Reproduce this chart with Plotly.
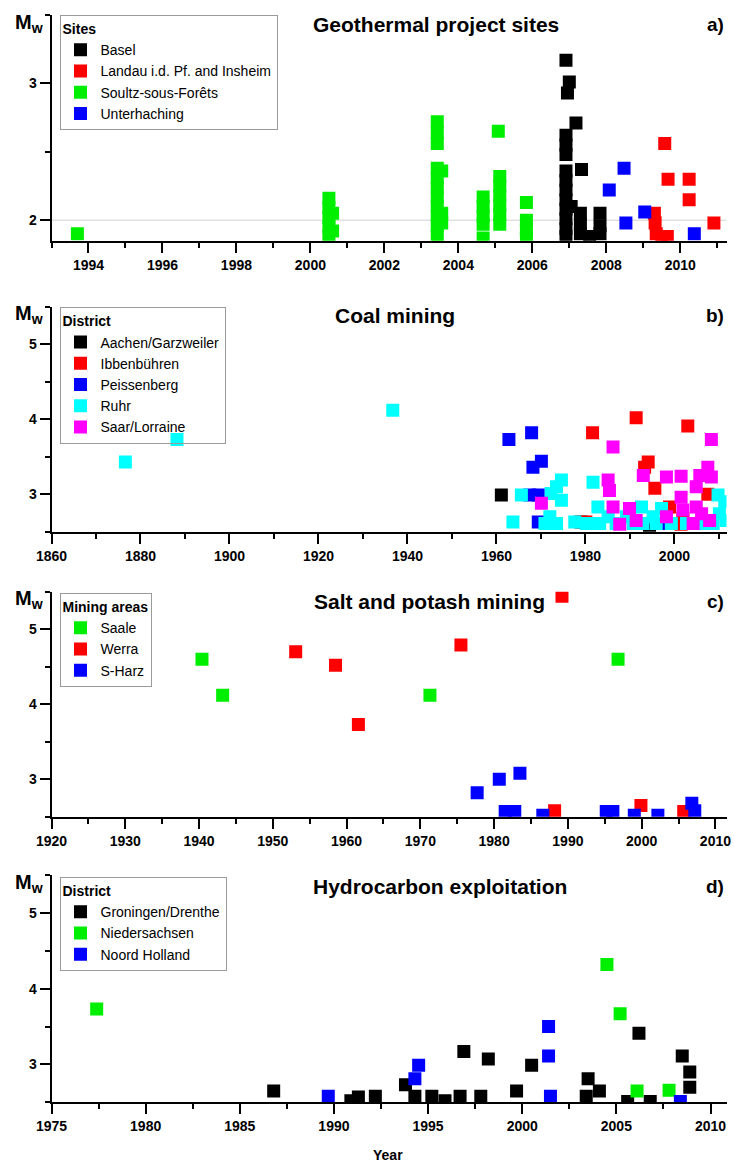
import plotly.graph_objects as go

W, H = 734, 1164

# ---------------- Panel a: Geothermal project sites ----------------
basel_x = [2006.91, 2007.0, 2006.95, 2007.18, 2006.91, 2006.91, 2006.91,
           2006.91, 2006.91, 2006.91, 2006.91, 2006.91, 2006.91, 2006.91, 2006.91,
           2007.33, 2007.05, 2007.3, 2007.3, 2007.3, 2007.55, 2007.83, 2007.83, 2007.83]
basel_y = [3.17, 3.01, 2.93, 2.71, 2.62, 2.55, 2.48,
           2.36, 2.29, 2.22, 2.15, 2.08, 2.01, 1.94, 1.88,
           2.37, 2.10, 2.05, 1.97, 1.90, 1.88, 2.05, 1.96, 1.90]
landau_x = [2009.58, 2009.67, 2010.24, 2010.24, 2010.91, 2009.3, 2009.32, 2009.35, 2009.5, 2009.65]
landau_y = [2.56, 2.30, 2.30, 2.15, 1.98, 2.05, 1.98, 1.90, 1.88, 1.88]
soultz_x = [1993.7,
            2000.5, 2000.5, 2000.5, 2000.5, 2000.5, 2000.6, 2000.6,
            2003.43, 2003.43, 2003.43,
            2003.43, 2003.43, 2003.43, 2003.43, 2003.43, 2003.43, 2003.43, 2003.43,
            2003.55, 2003.55, 2003.55,
            2004.67, 2004.67, 2004.67, 2004.67, 2004.67,
            2005.08,
            2005.12, 2005.12, 2005.12, 2005.12, 2005.12, 2005.12,
            2005.84, 2005.84, 2005.84, 2005.84]
soultz_y = [1.90,
            2.16, 2.09, 2.02, 1.95, 1.88, 2.05, 1.92,
            2.72, 2.64, 2.56,
            2.38, 2.31, 2.24, 2.17, 2.10, 2.03, 1.96, 1.89,
            2.36, 2.05, 1.98,
            2.17, 2.10, 2.03, 1.97, 1.87,
            2.65,
            2.32, 2.25, 2.18, 2.11, 2.04, 1.97,
            2.13, 2.00, 1.93, 1.87]
unter_x = [2008.08, 2008.48, 2008.53, 2009.04, 2010.38]
unter_y = [2.22, 2.38, 1.98, 2.06, 1.90]

# ---------------- Panel b: Coal mining ----------------
aachen_x = [1961.1, 1979.0, 1994.4]
aachen_y = [2.99, 2.63, 2.55]
ibben_x = [1991.4, 2003.0, 1981.6, 1994.1, 1993.3, 1995.6, 1980.1, 1998.9, 2001.9, 2007.5, 2001.5]
ibben_y = [4.02, 3.91, 3.82, 3.43, 3.36, 3.08, 2.63, 2.83, 2.68, 3.00, 2.60]
peiss_x = [1962.8, 1967.9, 1970.1, 1968.2, 1967.5, 1969.4, 1969.4, 1997.8]
peiss_y = [3.73, 3.82, 3.44, 3.36, 2.99, 2.99, 2.63, 2.61]
ruhr_x = [1876.6, 1888.2, 1936.7,
          1963.7, 1965.6, 1974.6, 1973.5, 1972.3, 1974.6, 1972.0, 1973.5, 1970.9, 1977.6,
          1981.7, 1982.8, 1983.2, 1985.1, 1986.9, 1989.2, 1992.6, 1992.9, 1995.2, 1997.1,
          1999.3, 1995.9, 2009.8, 2011.3, 2010.1, 2008.7, 2011.6, 2006.4, 1981.7, 1990.7,
          1980.2, 2002.7]
ruhr_y = [3.43, 3.73, 4.12,
          2.63, 2.99, 3.19, 3.10, 3.01, 2.92, 2.70, 2.61, 2.61, 2.63,
          3.16, 2.83, 2.61, 2.70, 2.61, 2.70, 2.83, 2.61, 2.70, 2.81,
          2.61, 2.61, 2.99, 2.90, 2.74, 2.61, 2.65, 2.61, 2.61, 2.61,
          2.61, 2.61]
saar_x = [2008.3, 1986.2, 1998.2, 2001.5, 1993.0, 2005.7, 2007.5, 2008.3, 1985.1, 1985.4,
          1970.1, 1986.2, 1989.9, 2001.5, 2004.9, 2004.9, 2001.9, 2006.1, 1987.7, 1991.4,
          2004.2, 2007.9, 1998.2]
saar_y = [3.73, 3.63, 3.23, 3.24, 3.25, 3.25, 3.36, 3.23, 3.19, 3.05,
          2.88, 2.83, 2.81, 2.96, 3.10, 2.83, 2.79, 2.74, 2.60, 2.65,
          2.61, 2.65, 2.70]

# ---------------- Panel c: Salt and potash mining ----------------
saale_x = [1940.4, 1943.2, 1971.3, 1996.8]
saale_y = [4.60, 4.12, 4.12, 4.60]
werra_x = [1953.1, 1958.5, 1961.6, 1975.5, 1989.2, 1988.2, 1999.9, 2005.7]
werra_y = [4.70, 4.52, 3.73, 4.79, 5.44, 2.58, 2.65, 2.57]
sharz_x = [1977.7, 1980.7, 1983.5, 1981.5, 1982.8, 1986.6, 1995.2, 1996.1, 1999.0, 2002.2, 2006.8, 2007.2]
sharz_y = [2.82, 3.00, 3.08, 2.57, 2.57, 2.52, 2.57, 2.57, 2.52, 2.52, 2.68, 2.58]

# ---------------- Panel d: Hydrocarbon exploitation ----------------
gron_x = [1986.8, 1991.3, 1990.9, 1992.2, 1993.8, 1994.3, 1995.2, 1995.9, 1996.7, 1996.9,
          1998.2, 1997.8, 1999.7, 2000.5, 2003.5, 2003.4, 2004.1, 2005.6, 2006.2, 2006.8,
          2008.5, 2008.9, 2008.9]
gron_y = [2.65, 2.57, 2.52, 2.58, 2.73, 2.58, 2.58, 2.52, 2.58, 3.17,
          3.07, 2.58, 2.65, 2.99, 2.81, 2.58, 2.65, 2.51, 3.41, 2.51,
          3.11, 2.90, 2.70]
nieder_x = [1977.4, 2004.5, 2005.2, 2006.1, 2007.8]
nieder_y = [3.73, 4.32, 3.67, 2.65, 2.66]
noord_x = [1989.7, 1994.3, 1994.5, 2001.4, 2001.4, 2001.5, 2008.4]
noord_y = [2.58, 2.81, 2.99, 3.50, 3.11, 2.58, 2.51]

panels = [
    dict(title="Geothermal project sites", letter="a)", legend_title="Sites",
         xr=[1993, 2011.25], yr=[1.85, 3.5], dtx=2, t0x=1994, mdx=1,
         top=15, bottom=240.7, title_cx=436, title_y=24,
         leg_y=15,
         series=[("Basel", basel_x, basel_y, "#000000"),
                 ("Landau i.d. Pf. and Insheim", landau_x, landau_y, "#ff0000"),
                 ("Soultz-sous-Forêts", soultz_x, soultz_y, "#00ee00"),
                 ("Unterhaching", unter_x, unter_y, "#0000ff")]),
    dict(title="Coal mining", letter="b)", legend_title="District",
         xr=[1860, 2011.7], yr=[2.5, 5.5], dtx=20, t0x=1860, mdx=10,
         top=306.7, bottom=531.7, title_cx=395, title_y=316,
         leg_y=307.3,
         series=[("Aachen/Garzweiler", aachen_x, aachen_y, "#000000"),
                 ("Ibbenbühren", ibben_x, ibben_y, "#ff0000"),
                 ("Peissenberg", peiss_x, peiss_y, "#0000ff"),
                 ("Ruhr", ruhr_x, ruhr_y, "#00ffff"),
                 ("Saar/Lorraine", saar_x, saar_y, "#ff00ff")]),
    dict(title="Salt and potash mining", letter="c)", legend_title="Mining areas",
         xr=[1920, 2011.5], yr=[2.5, 5.5], dtx=10, t0x=1920, mdx=5,
         top=591.7, bottom=816.7, title_cx=429, title_y=601,
         leg_y=593,
         series=[("Saale", saale_x, saale_y, "#00ee00"),
                 ("Werra", werra_x, werra_y, "#ff0000"),
                 ("S-Harz", sharz_x, sharz_y, "#0000ff")]),
    dict(title="Hydrocarbon exploitation", letter="d)", legend_title="District",
         xr=[1975, 2010.85], yr=[2.5, 5.5], dtx=5, t0x=1975, mdx=2.5,
         top=875, bottom=1102.3, title_cx=440, title_y=886,
         leg_y=877,
         series=[("Groningen/Drenthe", gron_x, gron_y, "#000000"),
                 ("Niedersachsen", nieder_x, nieder_y, "#00ee00"),
                 ("Noord Holland", noord_x, noord_y, "#0000ff")]),
]

FONT = "Liberation Sans"
fig = go.Figure()
left_px, right_px = 51.5, 726.5
annotations = []
shapes = []
layout = {}

for i, p in enumerate(panels, start=1):
    xa = "x" if i == 1 else f"x{i}"
    ya = "y" if i == 1 else f"y{i}"
    lg = "legend" if i == 1 else f"legend{i}"
    for name, xs, ys, col in p["series"]:
        fig.add_trace(go.Scatter(
            x=xs, y=ys, mode="markers", name=name, xaxis=xa, yaxis=ya, legend=lg,
            marker=dict(symbol="square", size=13, color=col, line=dict(width=0)),
        ))
    common = dict(showline=True, linecolor="black", linewidth=2, ticks="outside",
                  ticklen=10, tickwidth=2, tickcolor="black", showgrid=False, zeroline=False,
                  automargin=False,
                  tickfont=dict(family=FONT, size=14, color="black", weight="bold"))
    layout["xaxis" if i == 1 else f"xaxis{i}"] = dict(
        common, domain=[left_px / W, right_px / W], anchor=ya, range=p["xr"],
        dtick=p["dtx"], tick0=p["t0x"],
        minor=dict(ticks="outside", ticklen=5, tickwidth=2, tickcolor="black",
                   dtick=p["mdx"], tick0=p["t0x"], showgrid=False))
    layout["yaxis" if i == 1 else f"yaxis{i}"] = dict(
        common, domain=[1 - p["bottom"] / H, 1 - p["top"] / H], anchor=xa, range=p["yr"],
        dtick=1, tick0=0,
        minor=dict(ticks="outside", ticklen=5, tickwidth=2, tickcolor="black",
                   dtick=0.5, tick0=0, showgrid=False))
    layout[lg] = dict(
        x=59.5 / W, y=1 - p["leg_y"] / H, xanchor="left", yanchor="top",
        xref="paper", yref="paper",
        bordercolor="#9a9a9a", borderwidth=1, bgcolor="rgba(255,255,255,0)",
        font=dict(family=FONT, size=14, color="black"),
        title=dict(text=f"<b>{p['legend_title']}</b>", font=dict(family=FONT, size=14, color="black")),
        itemsizing="trace", tracegroupgap=0, itemwidth=30,
    )
    annotations.append(dict(text=f"<b>{p['title']}</b>", x=p["title_cx"] / W, y=1 - p["title_y"] / H,
                            xref="paper", yref="paper", xanchor="center", yanchor="middle",
                            showarrow=False, font=dict(family=FONT, size=21, color="black")))
    annotations.append(dict(text=f"<b>{p['letter']}</b>", x=726 / W, y=1 - p["title_y"] / H,
                            xref="paper", yref="paper", xanchor="right", yanchor="middle",
                            showarrow=False, font=dict(family=FONT, size=19, color="black")))
    annotations.append(dict(text="<b>M<sub>w</sub></b>", x=29 / W, y=1 - (p["top"] + 8) / H,
                            xref="paper", yref="paper", xanchor="center", yanchor="middle",
                            showarrow=False, font=dict(family=FONT, size=20, color="black")))

annotations.append(dict(text="<b>Year</b>", x=388 / W, y=1 - 1155 / H,
                        xref="paper", yref="paper", xanchor="center", yanchor="middle",
                        showarrow=False, font=dict(family=FONT, size=14, color="black")))

shapes.append(dict(type="line", xref="x", yref="y", x0=1993, x1=2011.25, y0=2, y1=2,
                   line=dict(color="#d0d0d0", width=1), layer="below"))

fig.update_layout(
    width=W, height=H, margin=dict(l=0, r=0, t=0, b=0),
    paper_bgcolor="white", plot_bgcolor="white",
    font=dict(family=FONT, color="black"),
    annotations=annotations, shapes=shapes, **layout,
)

fig.write_html("out.html", config={"displayModeBar": False},
               post_script="document.body.style.margin='0';document.body.style.overflow='hidden';")
